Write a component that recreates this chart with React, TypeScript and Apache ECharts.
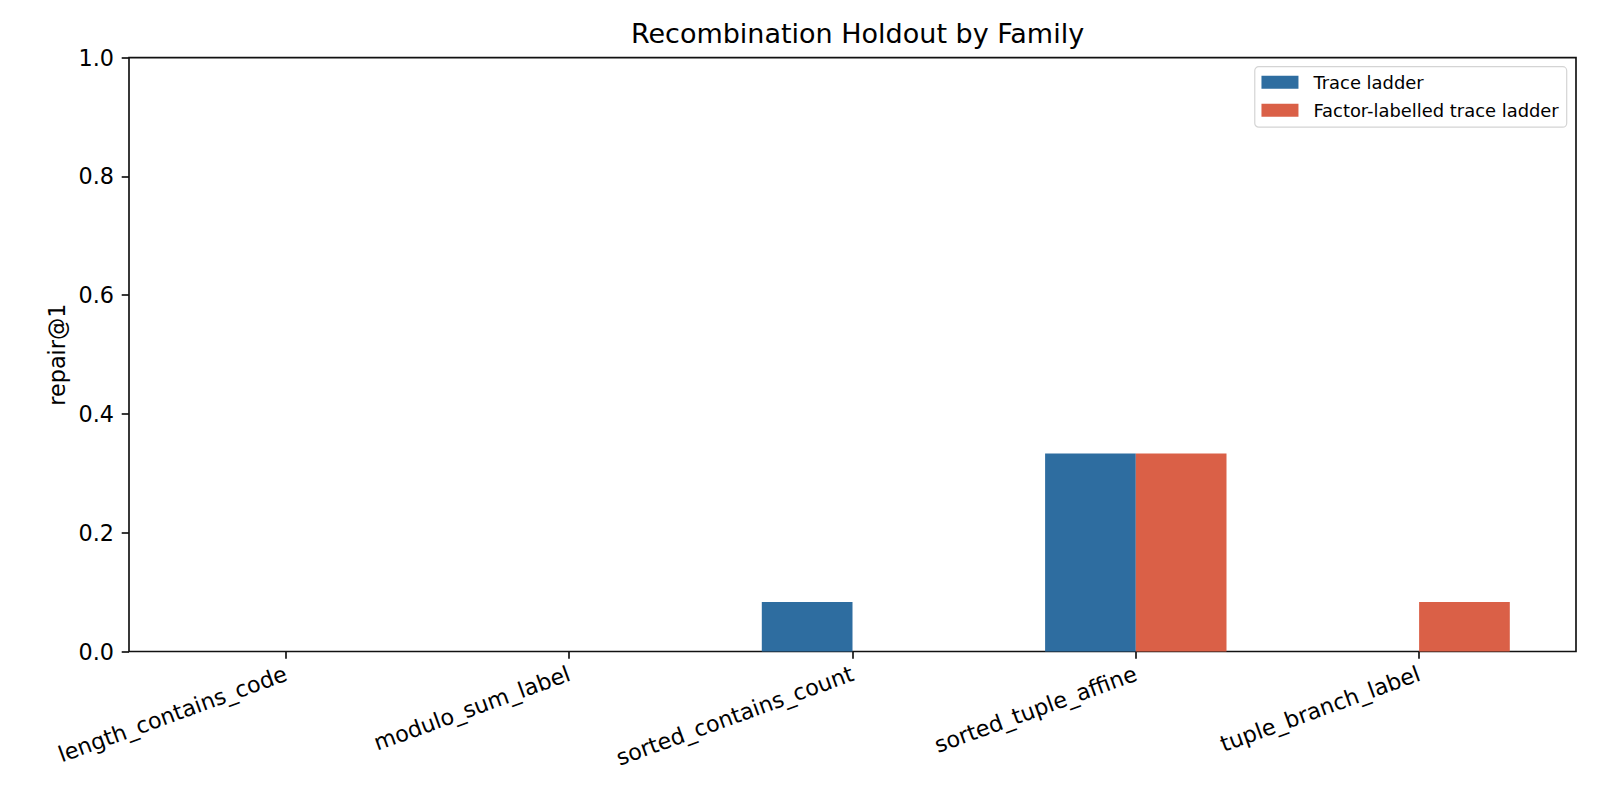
import React, { useEffect, useRef } from "react";
import * as echarts from "echarts";

const categories = [
  "length_contains_code",
  "modulo_sum_label",
  "sorted_contains_count",
  "sorted_tuple_affine",
  "tuple_branch_label",
];
const traceLadder = [0, 0, 0.0833, 0.3333, 0];
const factorLabelled = [0, 0, 0, 0.3333, 0.0833];
const seriesNames = ["Trace ladder", "Factor-labelled trace ladder"];

const FONT = "DejaVu Sans";

export default function App() {
  const ref = useRef<HTMLDivElement>(null);
  useEffect(() => {
    if (!ref.current) return;
    const chart = echarts.init(ref.current, null, { renderer: "svg" });
    const idx = categories.map((_, i) => i);
    const option: any = {
      animation: false,
      backgroundColor: "#ffffff",
      title: {
        text: "Recombination Holdout by Family",
        left: 852.5,
        textAlign: "center",
        top: 15,
        textStyle: { fontFamily: FONT, fontSize: 27, fontWeight: "normal", color: "#000" },
      },
      legend: {
        orient: "vertical",
        right: 33.3,
        top: 66.7,
        itemWidth: 37,
        itemHeight: 13,
        itemGap: 10,
        padding: [6.5, 8, 8, 6.7],
        borderColor: "#d4d4d4",
        borderWidth: 1.2,
        borderRadius: 4,
        backgroundColor: "rgba(255,255,255,0.8)",
        icon: "rect",
        data: seriesNames,
        textStyle: { fontFamily: FONT, fontSize: 17.9, color: "#000", padding: [0, 0, 0, 10] },
      },
      grid: {
        left: 129,
        top: 57.7,
        width: 1447,
        height: 593.8,
        show: true,
        borderColor: "#111",
        borderWidth: 1.67,
        containLabel: false,
      },
      xAxis: {
        type: "value",
        min: -0.5538,
        max: 4.5538,
        splitLine: { show: false },
        axisLine: { show: false, onZero: false },
        axisTick: {
          show: true,
          customValues: idx,
          length: 7.3,
          lineStyle: { color: "#111", width: 1.67 },
        },
        axisLabel: {
          customValues: idx,
          rotate: 20,
          margin: 21,
          fontFamily: FONT,
          fontSize: 22.3,
          color: "#000",
          formatter: (v: number) => categories[Math.round(v)] ?? "",
        },
      },
      yAxis: {
        type: "value",
        min: 0,
        max: 1,
        interval: 0.2,
        name: "repair@1",
        nameLocation: "middle",
        nameGap: 55,
        nameTextStyle: { fontFamily: FONT, fontSize: 22.3, color: "#000" },
        splitLine: { show: false },
        axisLine: { show: false, onZero: false },
        axisTick: {
          show: true,
          length: 7.3,
          lineStyle: { color: "#111", width: 1.67 },
        },
        axisLabel: {
          margin: 15,
          fontFamily: FONT,
          fontSize: 22.3,
          color: "#000",
          formatter: (v: number) => v.toFixed(1),
        },
      },
      series: [
        {
          name: seriesNames[0],
          type: "bar",
          barWidth: 90.7,
          barGap: "0%",
          itemStyle: { color: "#2e6da0" },
          data: traceLadder.map((v, i) => [i, v]),
        },
        {
          name: seriesNames[1],
          type: "bar",
          barWidth: 90.7,
          barGap: "0%",
          itemStyle: { color: "#da6047" },
          data: factorLabelled.map((v, i) => [i, v]),
        },
      ],
    };
    chart.setOption(option);
    return () => chart.dispose();
  }, []);
  return (
    <div
      ref={ref}
      style={{ position: "absolute", left: 0, top: 0, width: 1600, height: 800 }}
    />
  );
}
